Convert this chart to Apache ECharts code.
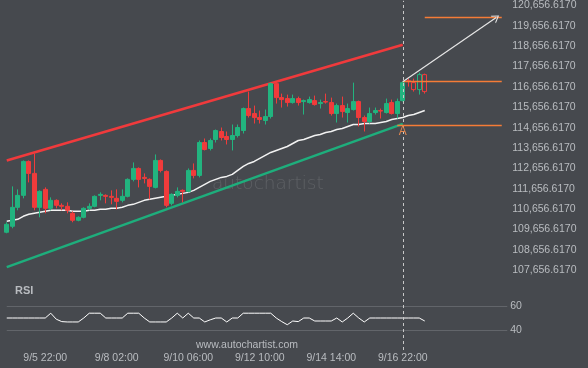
<!DOCTYPE html>
<html><head><meta charset="utf-8">
<script src="https://cdn.jsdelivr.net/npm/echarts@6/dist/echarts.min.js"></script>
<style>html,body{margin:0;padding:0;background:#46494e;}#c{width:588px;height:368px;}</style>
</head><body><div id="c"></div>
<script>
// ---- data ----
const categories = Array.from({length: 92}, (_, i) => String(i));
const tickIdx = [7, 20, 33, 46, 59, 72];
const tickLabels = ['9/5 22:00', '9/8 02:00', '9/10 06:00', '9/12 10:00', '9/14 14:00', '9/16 22:00'];
const yTicks = [107656.617, 108656.617, 109656.617, 110656.617, 111656.617, 112656.617, 113656.617,
  114656.617, 115656.617, 116656.617, 117656.617, 118656.617, 119656.617, 120656.617];

const open = [109515,109809,110740,111328,112995,112407,110740,111622,110691,111083,
  110838,110789,110446,110103,110250,110691,110789,111328,111328,111279,
  111181,111083,111279,112113,112652,112211,112113,111720,113044,112505,
  110936,111328,111573,111524,112554,112309,113926,113632,114073,114465,
  114220,114073,114269,114514,115593,115348,115152,115005,115201,116818,
  116132,116083,115887,116083,115936,115887,115985,115838,115936,115887,
  115348,115740,115397,115544,115936,115152,114956,115397,115495,115397,
  115887,115348,115985];
const close = [109907,110740,111328,112995,112407,110740,111524,110691,111083,110838,
  110789,110593,110103,110250,110691,110789,111279,111377,111279,111230,
  111034,111279,112113,112652,112113,112162,111769,113044,112554,110838,
  111377,111524,111524,112554,112309,113926,113583,114024,114514,114171,
  114073,114269,114662,115593,115250,115152,115054,115201,116818,116132,
  116034,115887,116083,115887,115985,116034,115789,115887,115911,115348,
  115740,115446,115593,115936,115152,114956,115348,115495,115470,115838,
  115348,115936,116867];
const low = [109466,109711,110593,111181,111965,110593,110250,110446,110593,110691,
  110593,110446,110005,110054,110201,110593,110740,111083,110936,110887,
  110642,110985,111230,112014,111720,111916,111132,111671,112456,110740,
  110838,111230,110985,111475,112162,112211,113534,113534,113926,114024,
  113828,113534,114171,114367,115152,114858,114858,114809,115103,115838,
  115642,115691,115838,115740,115299,115838,115740,115593,115838,115250,
  114907,115152,114907,115495,114711,114465,114858,115299,115103,115348,
  115299,115103,115936];
const high = [110005,111769,111622,113044,113044,113387,111573,111720,111230,111132,
  110936,110985,110544,110299,110740,110936,111328,111475,111377,111573,
  111622,111622,112162,112946,112701,112407,112162,113338,113093,112554,
  111426,111720,111622,112652,112897,114024,114122,114122,114564,114662,
  114465,114809,114809,115642,116426,115740,115495,115544,116867,116867,
  116328,116279,116279,116181,116034,116181,116230,116034,116328,116132,
  115838,116181,115838,116867,115985,115250,115642,115642,115593,116083,
  116034,116083,116916];

// projected (hollow) candles after the breakout
const futStart = 73;
const futOpen = [116965, 116867, 116524, 117260];
const futClose = [116916, 116524, 117260, 116426];
const futLow = [116671, 116426, 116279, 116328];
const futHigh = [117063, 117063, 117358, 117309];

const ma = [110054,110103,110152,110299,110397,110446,110495,110544,110593,110593,
  110593,110593,110544,110544,110544,110593,110593,110642,110642,110691,
  110691,110740,110838,110887,110985,111083,111132,111181,111230,111279,
  111328,111377,111426,111475,111573,111720,111867,112014,112113,112211,
  112260,112358,112554,112750,112897,112995,113142,113289,113436,113534,
  113632,113730,113877,114024,114073,114171,114269,114318,114416,114465,
  114564,114613,114711,114809,114809,114858,114858,114858,114907,114956,
  115054,115103,115152,115250,115299,115397,115495];

const rsi = [50,50,50,50,50,50,50,50,54,49,
  47,46.7,46.7,46.7,50,54,54,54,50,50,
  50,50,54,54,54,50,46.7,46.7,46.7,46.7,
  50,54,50,54,50,50,46.7,48.5,50,50,
  46.7,50,50,54,54,54,54,54,54,50,
  47,44.4,47.5,47,50,50,47.5,47.5,47.5,47.5,
  50,46.7,50,54,50,46.7,50,50,50,50,
  50,50,50,50,50,50,47.5];

const resistance = [[0, 113044], [72, 118730]];
const support = [[0, 107799], [72, 114843]];
const breakoutIdx = 72;
const levelHigh = 116951;
const levelLow = 114794;
const target = 120103;
const arrowFrom = [72, 116916];
const arrowTo = [89, 120068];
const pointA = [72, 114465];

// ---- chart ----
const candleData = open.map((o, i) => [i, o, close[i], low[i], high[i]]);
const futData = futOpen.map((o, i) => [futStart + i, o, futClose[i], futLow[i], futHigh[i]]);
const GREEN = '#22b47f', RED = '#f03b3b', ORANGE = '#f57c37';
const FONT = 'Liberation Sans, Arial, sans-serif';
const txt = '#b9bcc0';

const chart = echarts.init(document.getElementById('c'), null, {renderer: 'canvas'});
chart.setOption({
  backgroundColor: '#46494e',
  animation: false,
  title: {text: 'RSI', left: 10, top: 280, textStyle: {color: txt, fontSize: 11, fontWeight: 'bold', fontFamily: FONT}},
  grid: [
    {left: 6.75, right: 80.75, top: 0, height: 350},
    {left: 6.75, right: 80.75, top: 306, height: 24}
  ],
  xAxis: [
    {type: 'category', gridIndex: 0, data: categories, boundaryGap: false,
     axisLine: {show: false}, axisTick: {show: false}, axisLabel: {show: false}, splitLine: {show: false}},
    {type: 'category', gridIndex: 1, data: categories, boundaryGap: false,
     axisLine: {show: false}, axisTick: {show: false}, splitLine: {show: false},
     axisLabel: {interval: (i) => tickIdx.includes(i), formatter: (v, i) => tickLabels[tickIdx.indexOf(i)] || '',
       color: txt, fontSize: 10.5, fontFamily: FONT, margin: 23}}
  ],
  yAxis: [
    {type: 'value', gridIndex: 0, position: 'right', min: 103730, max: 120887, scale: true,
     splitLine: {show: false}, axisLine: {show: false}, axisTick: {show: false},
     axisLabel: {customValues: yTicks, color: txt, fontSize: 10.5, fontFamily: FONT, margin: 5,
       formatter: (v) => v.toLocaleString('en-US', {minimumFractionDigits: 4, maximumFractionDigits: 4})}},
    {type: 'value', gridIndex: 1, position: 'right', min: 40, max: 60, interval: 20,
     splitLine: {show: true, lineStyle: {color: '#62656a', width: 1}}, axisLine: {show: false}, axisTick: {show: false},
     axisLabel: {color: txt, fontSize: 10.5, fontFamily: FONT, margin: 3}}
  ],
  graphic: [
    {type: 'text', left: 212, top: 175, silent: true,
     style: {text: 'autochartist', fill: 'rgba(255,255,255,0.12)', font: '300 18.5px "DejaVu Sans", sans-serif'}},
    {type: 'text', left: 196, top: 340, silent: true,
     style: {text: 'www.autochartist.com', fill: txt, font: '10.5px "Liberation Sans", Arial, sans-serif'}}
  ],
  series: [
    {type: 'line', xAxisIndex: 0, yAxisIndex: 0, data: resistance, symbol: 'none', silent: true,
     lineStyle: {color: '#f03a3c', width: 2.5}, z: 2},
    {type: 'line', xAxisIndex: 0, yAxisIndex: 0, data: support, symbol: 'none', silent: true,
     lineStyle: {color: '#1eae7c', width: 2.5}, z: 2},
    {type: 'line', xAxisIndex: 0, yAxisIndex: 0, data: ma, symbol: 'none', silent: true,
     lineStyle: {color: '#f2f2f2', width: 1.5}, z: 3},
    {type: 'candlestick', xAxisIndex: 0, yAxisIndex: 0, data: candleData, encode: {x: 0, y: [1, 2, 3, 4]},
     barWidth: 4.8, clip: true, z: 4,
     itemStyle: {color: GREEN, color0: RED, borderColor: GREEN, borderColor0: RED, borderWidth: 1},
     markLine: {silent: true, symbol: 'none', animation: false, label: {show: false},
       data: [
         {xAxis: breakoutIdx, lineStyle: {type: [3, 3], color: '#c8c8c8', width: 1}},
         [{coord: [71, levelLow]}, {coord: [90, levelLow]}],
         [{coord: [72, levelHigh]}, {coord: [90, levelHigh]}],
         [{coord: [76, target]}, {coord: [90, target]}]
       ],
       lineStyle: {color: ORANGE, width: 1.3, type: 'solid'}},
     markPoint: {silent: true, symbol: 'rect', symbolSize: 1, itemStyle: {color: 'rgba(0,0,0,0)'},
       data: [{coord: pointA, label: {show: true, formatter: 'A', color: '#e0864f', fontSize: 12, fontFamily: FONT}}]}
    },
    {type: 'candlestick', xAxisIndex: 0, yAxisIndex: 0, data: futData, encode: {x: 0, y: [1, 2, 3, 4]},
     barWidth: 4.8, z: 4,
     itemStyle: {color: 'rgba(0,0,0,0)', color0: 'rgba(0,0,0,0)', borderColor: GREEN, borderColor0: RED, borderWidth: 1},
     markLine: {silent: true, animation: false, label: {show: false},
       symbol: ['none', 'path://M0,10 L5,0 L10,10 L8.6,10 L5,2.8 L1.4,10 Z'], symbolSize: [9, 7],
       lineStyle: {color: '#e6e6e6', width: 1.2, type: 'solid'},
       data: [[{coord: arrowFrom}, {coord: arrowTo}]]}
    },
    {type: 'line', xAxisIndex: 1, yAxisIndex: 1, data: rsi, symbol: 'none', silent: true,
     lineStyle: {color: '#ffffff', width: 1}}
  ]
});
</script></body></html>
